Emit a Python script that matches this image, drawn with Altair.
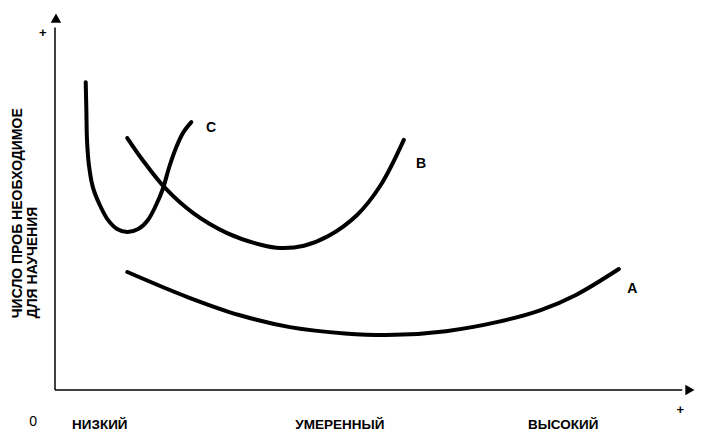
import altair as alt
import pandas as pd

# Curve A (wide range, shallow U)
a_x = [11.3, 20.6, 28.9, 36.7, 45.3, 53.1, 61.1, 69.2, 75.9, 81.4, 88.1]
a_y = [31.9, 25.2, 20.2, 17.0, 15.3, 14.9, 15.9, 18.4, 21.6, 25.7, 32.7]
# Curve B (moderate)
b_x = [11.3, 13.8, 17.2, 21.6, 26.9, 32.3, 35.2, 38.9, 42.7, 47.2, 50.9, 54.5]
b_y = [68.1, 61.9, 54.6, 47.8, 42.4, 39.2, 38.4, 39.0, 41.6, 47.3, 55.4, 67.6]
# Curve C (narrow, low)
c_x = [4.8, 4.9, 5.0, 5.3, 5.9, 7.0, 8.3, 9.7, 11.3, 13.0, 14.5, 15.8, 16.9, 17.8,
       18.9, 20.0, 21.3]
c_y = [83.2, 75.7, 67.6, 60.8, 54.9, 50.0, 45.9, 43.5, 42.7, 43.5, 45.9, 50.0, 54.6,
       60.0, 65.4, 69.5, 72.4]

curve_names = ["A", "B", "C"]
curve_label_x = [90.2, 57.2, 24.4]
curve_label_y = [27.3, 61.1, 70.8]

level_labels = ["НИЗКИЙ", "УМЕРЕННЫЙ", "ВЫСОКИЙ"]
level_x = [7.0, 44.5, 79.4]

y_title_lines = ["ЧИСЛО ПРОБ НЕОБХОДИМОЕ", "ДЛЯ НАУЧЕНИЯ"]
y_title_x = [-5.8, -3.4]

rows = []
for name, xs, ys in [("A", a_x, a_y), ("B", b_x, b_y), ("C", c_x, c_y)]:
    for i, (x, y) in enumerate(zip(xs, ys)):
        rows.append({"curve": name, "i": i, "x": x, "y": y})
curves_df = pd.DataFrame(rows)

xs = alt.Scale(domain=[0, 100])
ys = alt.Scale(domain=[0, 100])
FONT = "Liberation Sans"

def enc(ch):
    return ch.encode(x=alt.X("x:Q", scale=xs, axis=None), y=alt.Y("y:Q", scale=ys, axis=None))

curves = alt.Chart(curves_df).mark_line(
    color="black", strokeWidth=4, interpolate="catmull-rom", strokeCap="round"
).encode(
    x=alt.X("x:Q", scale=xs, axis=None),
    y=alt.Y("y:Q", scale=ys, axis=None),
    detail="curve:N",
    order="i:Q",
)

axes_df = pd.DataFrame({"x": [0, 0], "y": [0, 0], "x2": [0, 98], "y2": [98, 0]})
axes = alt.Chart(axes_df).mark_rule(color="black", strokeWidth=1.5).encode(
    x=alt.X("x:Q", scale=xs, axis=None), y=alt.Y("y:Q", scale=ys, axis=None),
    x2="x2:Q", y2="y2:Q",
)

up_df = pd.DataFrame({"x": [0.15], "y": [100.5]})
arrow_up = enc(alt.Chart(up_df).mark_point(
    shape="triangle-up", filled=True, size=110, color="black", opacity=1))

right_df = pd.DataFrame({"x": [99.2], "y": [0.0]})
arrow_right = enc(alt.Chart(right_df).mark_point(
    shape="triangle-right", filled=True, size=110, color="black", opacity=1))

lab_df = pd.DataFrame({"x": curve_label_x, "y": curve_label_y, "t": curve_names})
curve_labels = enc(alt.Chart(lab_df).mark_text(
    font=FONT, fontSize=14, fontWeight="bold", color="black", align="center", baseline="middle"
)).encode(text="t:N")

lev_df = pd.DataFrame({"x": level_x, "y": [-9.5] * 3, "t": level_labels})
level_text = enc(alt.Chart(lev_df).mark_text(
    font=FONT, fontSize=13.5, fontWeight="bold", color="black", align="center", baseline="middle"
)).encode(text="t:N")

plus_df = pd.DataFrame({"x": [-1.9, 97.7], "y": [96.5, -5.4], "t": ["+", "+"]})
plus_text = enc(alt.Chart(plus_df).mark_text(
    font=FONT, fontSize=13, fontWeight="bold", color="black", align="center", baseline="middle"
)).encode(text="t:N")

zero_df = pd.DataFrame({"x": [-3.4], "y": [-8.6], "t": ["0"]})
zero_text = enc(alt.Chart(zero_df).mark_text(
    font=FONT, fontSize=14, color="black", align="center", baseline="middle"
)).encode(text="t:N")

yt_df = pd.DataFrame({"x": y_title_x, "y": [19.4, 19.4], "t": y_title_lines})
y_title = enc(alt.Chart(yt_df).mark_text(
    font=FONT, fontSize=14, fontWeight="bold", color="black", align="left", baseline="middle", angle=270
)).encode(text="t:N")

chart = alt.layer(
    axes, arrow_up, arrow_right, curves, curve_labels, level_text, plus_text, zero_text, y_title
).properties(
    width=640, height=370,
    padding={"left": 47, "top": 12, "right": 4, "bottom": 42},
    autosize=alt.AutoSizeParams(type="none"),
    background="white",
).configure_view(stroke=None)

chart.save("out.html", embed_options={"renderer": "svg", "actions": False})
